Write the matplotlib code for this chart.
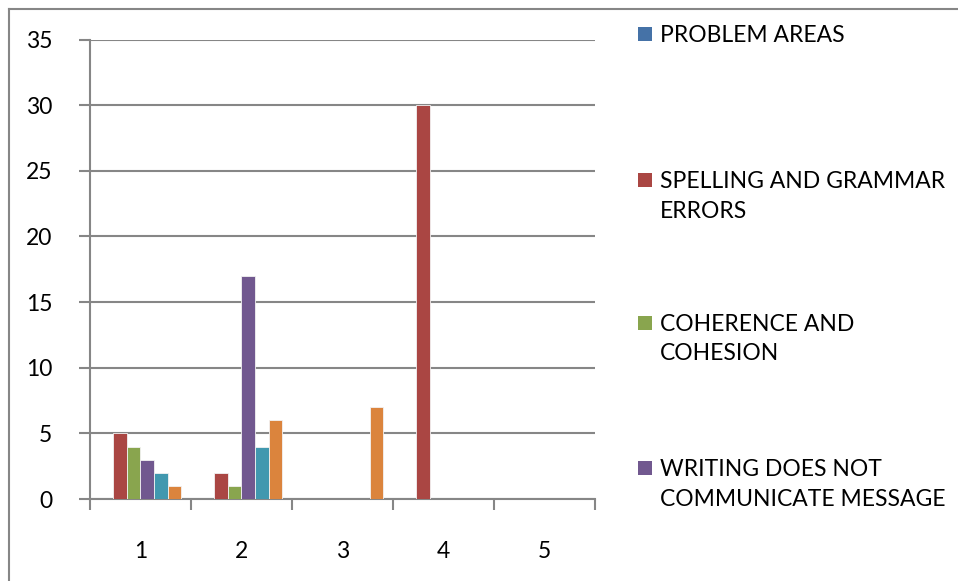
import numpy as np
from matplotlib import pyplot as plt
from matplotlib.patches import Rectangle
from matplotlib.lines import Line2D

plt.rcParams['font.family'] = ['Lato', 'DejaVu Sans']

categories = ['1', '2', '3', '4', '5']
series_names = ['PROBLEM AREAS', 'SPELLING AND GRAMMAR\nERRORS', 'COHERENCE AND\nCOHESION',
                'WRITING DOES NOT\nCOMMUNICATE MESSAGE', 'SERIES 5', 'SERIES 6']
problem_areas = [0, 0, 0, 0, 0]
spelling_grammar = [5, 2, 0, 30, 0]
coherence_cohesion = [4, 1, 0, 0, 0]
not_communicate = [3, 17, 0, 0, 0]
series_5 = [2, 4, 0, 0, 0]
series_6 = [1, 6, 7, 0, 0]
colors = ['#4572A7', '#AA4643', '#89A54E', '#71588F', '#4198AF', '#DB843D']

all_series = [problem_areas, spelling_grammar, coherence_cohesion, not_communicate, series_5, series_6]

fig = plt.figure(figsize=(9.58, 5.81), dpi=100)
ax = fig.add_axes([0.0939, 0.1411, 0.5271, 0.7909])

x = np.arange(len(categories))
group_w = 0.81
w = group_w / len(all_series)
bars = []
for i, vals in enumerate(all_series):
    b = ax.bar(x - group_w / 2 + w * (i + 0.5), vals, w, color=colors[i],
               edgecolor='#f2f2f2', linewidth=0.6, zorder=3)
    bars.append(b)

fs = 16.5
ax.set_xlim(-0.5, 4.5)
ax.set_ylim(0, 35)
ax.set_yticks(range(0, 36, 5))
ax.set_xticks(np.arange(-0.5, 5, 1))
ax.set_xticklabels([])
ax.set_xticks(x, minor=True)
ax.set_xticklabels(categories, minor=True)
ax.tick_params(axis='x', which='minor', length=0, pad=30, labelsize=fs)
ax.tick_params(axis='x', which='major', length=8, color='#868686', width=1.5, direction='out')
ax.tick_params(axis='y', length=8, color='#868686', width=1.5, direction='out', pad=19, labelsize=fs)
ax.grid(axis='y', color='#868686', linewidth=1.5, zorder=0)
for s in ['top', 'right']:
    ax.spines[s].set_visible(False)
for s in ['left', 'bottom']:
    ax.spines[s].set_color('#868686')
    ax.spines[s].set_linewidth(1.5)

# legend (only first four entries fit in the frame)
ys = [34, 180, 323, 468]
for i in range(4):
    yf = 1 - ys[i] / 581
    fig.patches.append(Rectangle((638 / 958, yf - 7 / 581), 14 / 958, 14 / 581,
                                 transform=fig.transFigure, facecolor=colors[i],
                                 edgecolor='none'))
    fig.text(660 / 958, yf + 9 / 581, series_names[i], fontsize=fs, va='top',
             ha='left', linespacing=1.5)

# chart frame
fig.add_artist(Line2D([9 / 958, 9 / 958], [0, 1 - 9 / 581], transform=fig.transFigure,
                      color='#868686', linewidth=1.5))
fig.add_artist(Line2D([9 / 958, 1], [1 - 9 / 581, 1 - 9 / 581], transform=fig.transFigure,
                      color='#868686', linewidth=1.5))

fig.savefig('out.png', dpi=100)
